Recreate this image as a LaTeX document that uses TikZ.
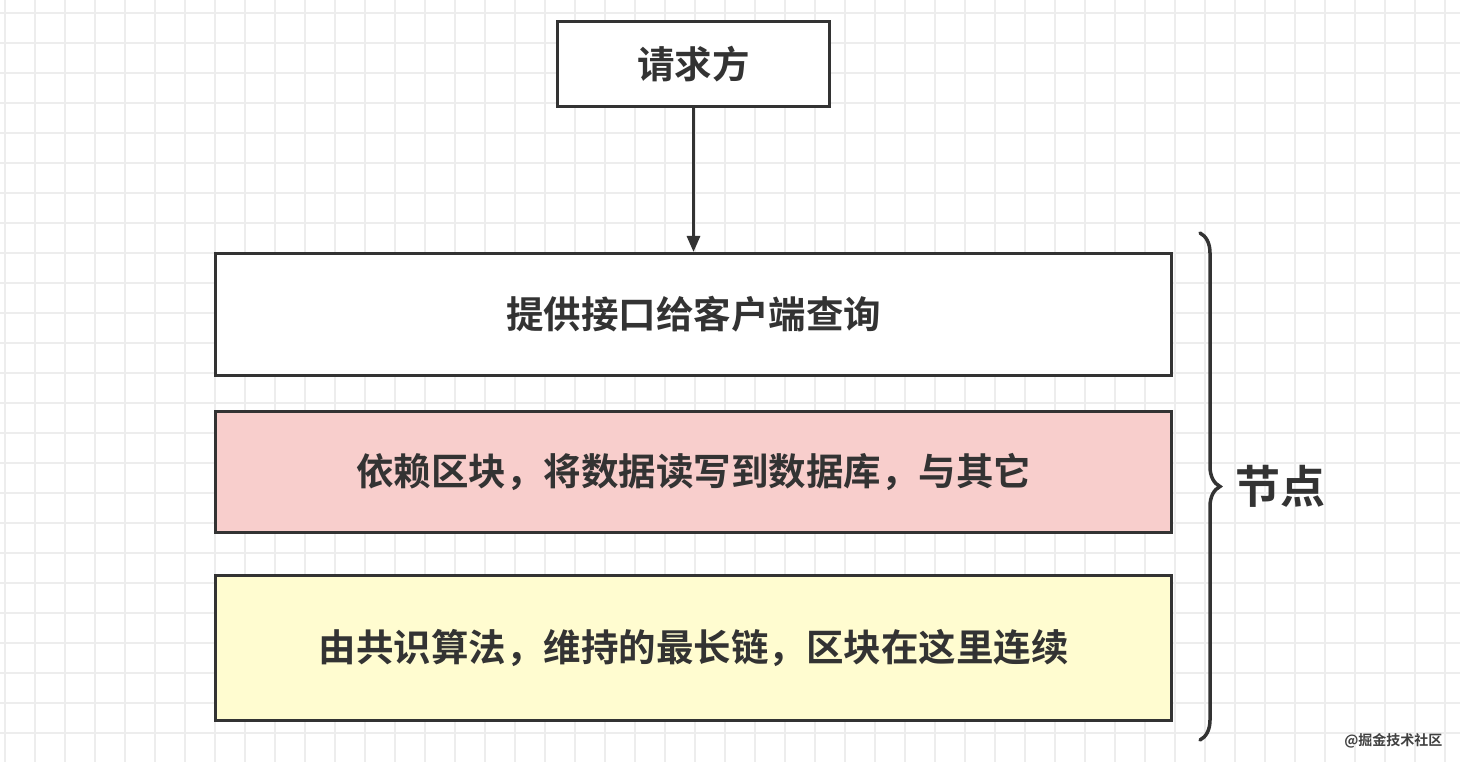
\documentclass[tikz,border=0pt]{standalone}
\usepackage{fontspec}
\newfontfamily\cjk{Noto Sans CJK SC}
\newfontfamily\cjkb{Noto Sans CJK SC Bold}
\usetikzlibrary{arrows.meta,decorations.pathreplacing}
\begin{document}
\begin{tikzpicture}[x=1pt,y=-1pt,
  box/.style={draw=black!80,line width=3pt,font=\cjkb\fontsize{37.5}{44}\selectfont,text=black!80}]
\useasboundingbox (0,0) rectangle (1460,762);
\fill[white] (0,0) rectangle (1460,762);
\foreach \i in {0,...,48} \draw[black!7,line width=1.2pt] (5+30*\i,0) -- (5+30*\i,762);
\foreach \j in {0,...,25} \draw[black!7,line width=1.2pt] (0,13+30*\j) -- (1460,13+30*\j);
\node[box,fill=white,minimum width=272pt,minimum height=85pt,anchor=north west] (req) at (556,20) {请求方};
\node[box,fill=white,minimum width=956pt,minimum height=122pt,anchor=north west] (b1) at (214,252) {提供接口给客户端查询};
\node[box,fill={rgb,255:red,248;green,206;blue,204},minimum width=956pt,minimum height=121pt,anchor=north west] (b2) at (214,410) {依赖区块，将数据读写到数据库，与其它};
\node[box,fill={rgb,255:red,255;green,252;blue,208},minimum width=956pt,minimum height=145pt,anchor=north west] (b3) at (214,574) {由共识算法，维持的最长链，区块在这里连续};
\draw[black!80,line width=3pt,-{Triangle[length=16pt,width=13pt]}] (req.south) -- (b1.north -| req.south);
\coordinate (bt) at (1200,233);
\coordinate (bb) at (1200,740);
\draw[black!80,line width=3.5pt,line cap=round,decorate,decoration={brace,amplitude=20pt,aspect=0.5}] (bt) -- (bb) node[midway,right=30pt,font=\cjkb\fontsize{45}{52}\selectfont,text=black!80] (lab) {节点};
\node[font=\cjkb\fontsize{14}{16}\selectfont,text=black!75,anchor=east] (wm) at (1446,741) {@掘金技术社区};
\end{tikzpicture}
\end{document}
